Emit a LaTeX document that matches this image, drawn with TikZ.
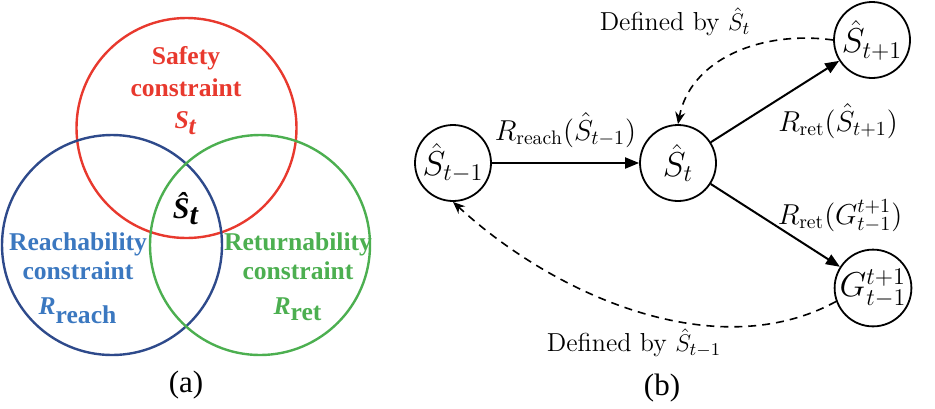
\documentclass[tikz,border=0pt]{standalone}
\usepackage{fontspec}
\newfontfamily\tfont{Liberation Serif}
\usetikzlibrary{arrows.meta}
\definecolor{cred}{HTML}{E8392E}
\definecolor{cblue}{HTML}{2E4A8B}
\definecolor{cbluet}{HTML}{3B78C0}
\definecolor{cgreen}{HTML}{4CAF50}
\tikzset{
  venn/.style={line width=1.2pt},
  vlabel/.style={font=\tfont\bfseries\fontsize{12.8}{15.5}\selectfont, anchor=base, inner sep=0pt},
  state/.style={circle, draw, line width=0.9pt, minimum size=38pt, inner sep=0pt, font=\fontsize{18.5}{20}\selectfont},
  solidarr/.style={line width=1pt, -{Triangle[length=7pt,width=5.5pt]}},
  dasharr/.style={line width=0.8pt, dashed, dash pattern=on 4pt off 3pt, -{Stealth[length=6pt,width=5pt]}},
  elabel/.style={font=\fontsize{14}{16}\selectfont},
  dlabel/.style={font=\fontsize{13}{15}\selectfont},
  captext/.style={font=\tfont\fontsize{15.5}{17}\selectfont}
}
\begin{document}
\begin{tikzpicture}[x=0.5pt,y=-0.5pt]
\useasboundingbox (0,0) rectangle (935,408);
% (a) Venn
\draw[venn, cred] (186.5,128) circle (55pt);
\draw[venn, cblue] (112,245) circle (55pt);
\draw[venn, cgreen] (260,245) circle (55pt);
\begin{scope}[every node/.style={vlabel, text=cred}]
\node (safety1) at (186,64) {Safety};
\node (safety2) at (186,96) {constraint};
\node (safety3) at (186,128) {\textit{S}$_{\textbf{\textit{t}}}$};
\end{scope}
\begin{scope}[every node/.style={vlabel, text=cbluet}]
\node (reach1) at (78,250) {Reachability};
\node (reach2) at (78,279) {constraint};
\node (reach3) at (78,314) {\textit{R}$_{\textbf{reach}}$};
\end{scope}
\begin{scope}[every node/.style={vlabel, text=cgreen}]
\node (ret1) at (298,250) {Returnability};
\node (ret2) at (298,279) {constraint};
\node (ret3) at (298,314) {\textit{R}$_{\textbf{ret}}$};
\end{scope}
\node[vlabel, text=black, font=\tfont\bfseries\itshape\fontsize{15}{16}\selectfont] (shat) at (186,218) {\^{S}$_{\textbf{\textit{t}}}$};
\node[captext] (capa) at (186,385) {(a)};
% (b) graph
\node[state] (sm) at (453,163) {$\hat S_{t-1}$};
\node[state] (s) at (678,163) {$\hat S_{t}$};
\node[state] (sp) at (872,40) {$\hat S_{t+1}$};
\node[state] (g) at (873,288) {$G_{t-1}^{t+1}$};
\draw[solidarr] (sm) -- (s) node[elabel, midway, above=4pt] (l1) {$R_{\mathrm{reach}}(\hat S_{t-1})$};
\draw[solidarr] (s) -- (sp);
\draw[solidarr] (s) -- (g);
\node[elabel] (l2) at (838,121) {$R_{\mathrm{ret}}(\hat S_{t+1})$};
\node[elabel] (l3) at (840,216) {$R_{\mathrm{ret}}(G_{t-1}^{t+1})$};
\draw[dasharr] (sp.west) .. controls (760,30) and (690,60) .. (s.north);
\draw[dasharr] (g.200) .. controls (720,365) and (560,300) .. (sm.south);
\node[dlabel] (d1) at (675,22) {Defined by $\hat S_t$};
\node[dlabel] (d2) at (634,343) {Defined by $\hat S_{t-1}$};
\node[captext] (capb) at (662,388) {(b)};
\end{tikzpicture}
\end{document}
